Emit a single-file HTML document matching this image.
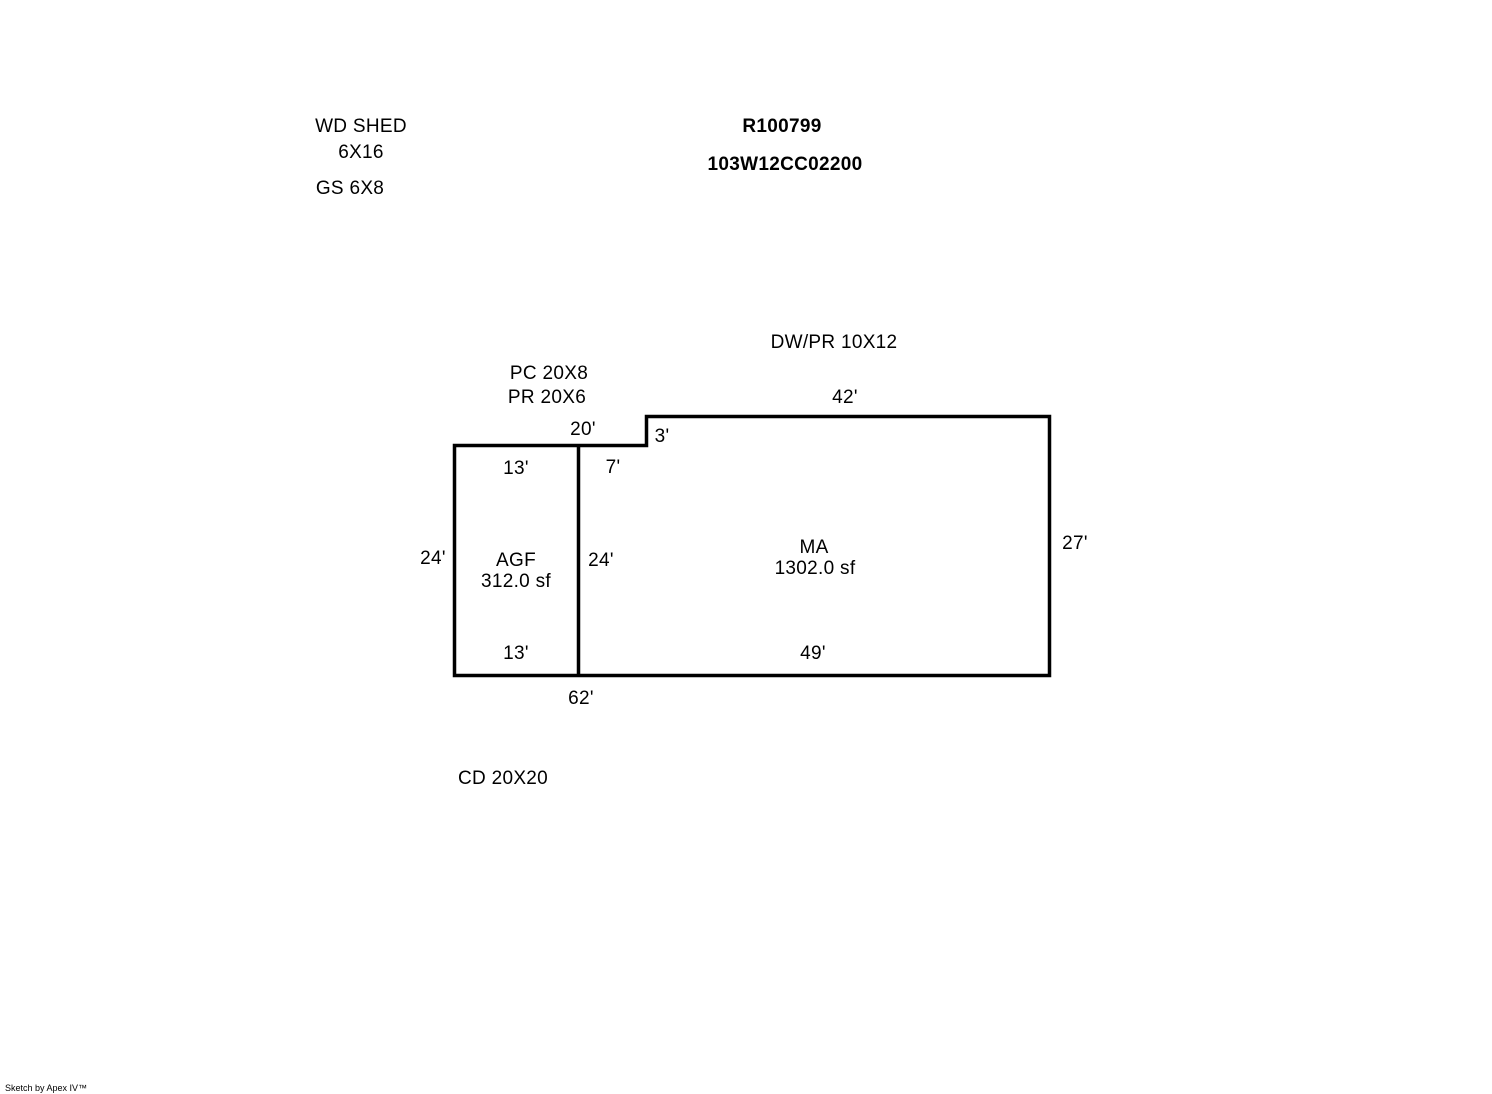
<!DOCTYPE html>
<html><head><style>html,body{margin:0;padding:0;background:#fff}svg{display:block}</style></head><body>
<svg width="1492" height="1094" xmlns="http://www.w3.org/2000/svg" font-family="Liberation Sans, Arial, sans-serif" font-size="19" letter-spacing="0.3" fill="#000">
<g fill="none" stroke="#000" stroke-width="3.5" stroke-linejoin="miter">
<polygon points="454.5,445.5 646.5,445.5 646.5,416.5 1049.5,416.5 1049.5,675.5 454.5,675.5"/>
<line x1="578.5" y1="445.5" x2="578.5" y2="675.5"/>
</g>
<g text-anchor="middle">
<text x="361" y="132">WD SHED</text>
<text x="361" y="158">6X16</text>
<text x="350" y="194">GS 6X8</text>
<text x="782" y="132" font-weight="bold">R100799</text>
<text x="785" y="170" font-weight="bold">103W12CC02200</text>
<text x="834" y="348">DW/PR 10X12</text>
<text x="549" y="379">PC 20X8</text>
<text x="547" y="403">PR 20X6</text>
<text x="845" y="403">42'</text>
<text x="583" y="435">20'</text>
<text x="662" y="442">3'</text>
<text x="516" y="474">13'</text>
<text x="613" y="473">7'</text>
<text x="433" y="564">24'</text>
<text x="516" y="566">AGF</text>
<text x="516" y="587">312.0 sf</text>
<text x="601" y="566">24'</text>
<text x="814" y="553">MA</text>
<text x="815" y="574">1302.0 sf</text>
<text x="1075" y="549">27'</text>
<text x="516" y="659">13'</text>
<text x="813" y="659">49'</text>
<text x="581" y="704">62'</text>
<text x="503" y="784">CD 20X20</text>
</g>
<text x="5" y="1091" font-size="9" letter-spacing="0">Sketch by Apex IV™</text>
</svg>
</body></html>
